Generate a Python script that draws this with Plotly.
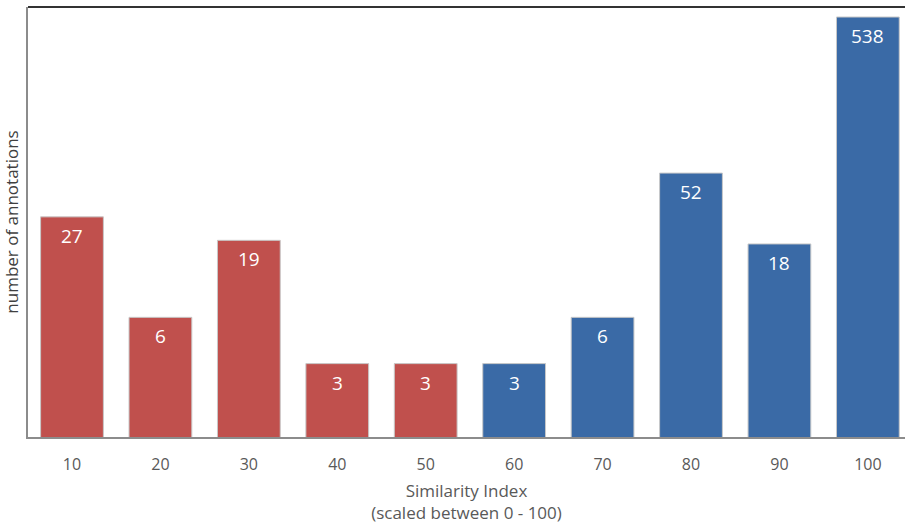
import math
import plotly.graph_objects as go

categories = ["10", "20", "30", "40", "50", "60", "70", "80", "90", "100"]
counts = [27, 6, 19, 3, 3, 3, 6, 52, 18, 538]
bar_colors = ["#C0504D"] * 5 + ["#3A6AA6"] * 5

fig = go.Figure(go.Bar(
    x=categories, y=counts,
    marker=dict(color=bar_colors, line=dict(color="#C8C8C8", width=1)),
))

# value labels: on a category axis x is the category index, on a log axis y is log10
for i, v in enumerate(counts):
    fig.add_annotation(x=i, y=math.log10(v), xref="x", yref="y",
                       text=str(v), showarrow=False,
                       yanchor="top", yshift=-4,
                       font=dict(color="#FFFFFF", size=19, family="Open Sans"))

fig.update_layout(
    width=905, height=524,
    margin=dict(l=28, r=0, t=7, b=87),
    plot_bgcolor="white", paper_bgcolor="white",
    bargap=0.29,
    showlegend=False,
    font=dict(family="Open Sans", color="#595959"),
    xaxis=dict(
        type="category", range=[-0.4975, 9.42],
        showline=True, linecolor="#8C8C8C", linewidth=2,
        ticks="", tickfont=dict(size=16, color="#595959"),
        ticklabelstandoff=12,
        title=dict(text="Similarity Index<br>(scaled between 0 - 100)",
                   font=dict(size=17, color="#595959"), standoff=12),
        showgrid=False,
    ),
    yaxis=dict(
        type="log", range=[0, 2.796],
        showline=True, linecolor="#8C8C8C", linewidth=2,
        showticklabels=False, ticks="", showgrid=False, zeroline=False,
        title=dict(text="number of annotations",
                   font=dict(size=17, color="#404040"), standoff=6),
    ),
    shapes=[dict(type="line", xref="paper", yref="paper",
                 x0=0, x1=1, y0=1, y1=1,
                 line=dict(color="#333333", width=2))],
)

fig.write_html("out.html")
